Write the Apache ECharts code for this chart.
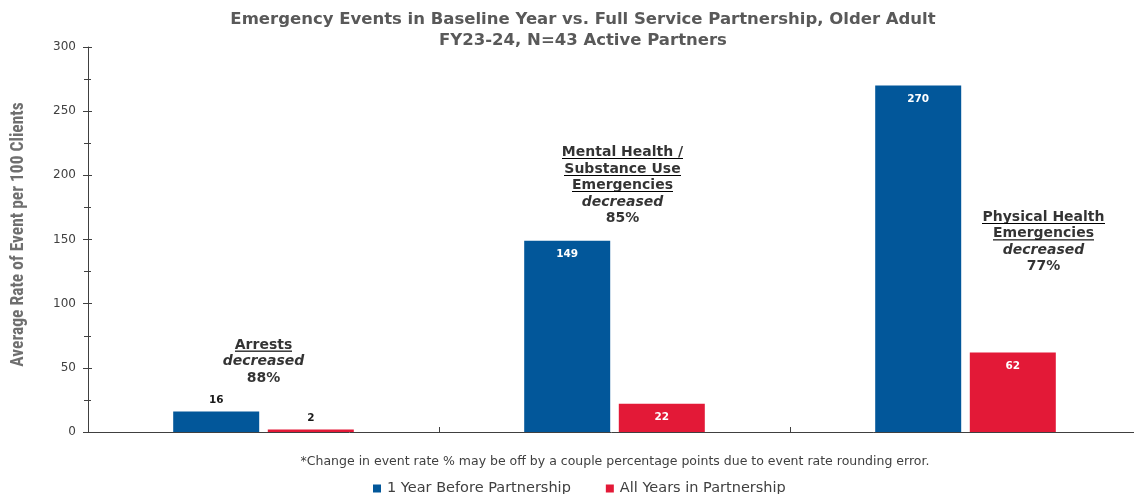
<!DOCTYPE html>
<html>
<head>
<meta charset="utf-8">
<script src="https://cdn.jsdelivr.net/npm/echarts@6/dist/echarts.min.js"></script>
<style>
  html, body { margin: 0; padding: 0; background: #fff; }
  #chart { width: 1134px; height: 494px; }
</style>
</head>
<body>
<div id="chart"></div>
<script>
// Emergency event rates per 100 clients, older adult FSP partners
const categories = ['Arrests', 'Mental Health / Substance Use Emergencies', 'Physical Health Emergencies'];
const seriesNames = ['1 Year Before Partnership', 'All Years in Partnership'];
const beforeValues = [16, 149, 270];
const duringValues = [2, 22, 62];
const decreasePct = ['88%', '85%', '77%'];
const headingLines = [['Arrests'], ['Mental Health /', 'Substance Use', 'Emergencies'], ['Physical Health', 'Emergencies']];
const yTicks = [0, 50, 100, 150, 200, 250, 300];
const titleLines = ['Emergency Events in Baseline Year vs. Full Service Partnership, Older Adult', 'FY23-24, N=43 Active Partners'];
const footnote = '*Change in event rate % may be off by a couple percentage points due to event rate rounding error.';

const BLUE = '#02579A';
const RED = '#E31937';
const FONT = '"DejaVu Sans", Verdana, sans-serif';

// small canvas stretched behind a text run to give it an underline
function underlineImage() {
  const c = document.createElement('canvas');
  c.width = 4; c.height = 40;
  const ctx = c.getContext('2d');
  ctx.fillStyle = '#000';
  ctx.fillRect(0, 36, 4, 3);
  return c;
}
const ul = underlineImage();

// annotation anchors: [category index, y value, x shift in px]
const annoAnchors = [[0, 55, 0], [1, 192, 8], [2, 148, 78]];

const annoData = annoAnchors.map(function (a) {
  const i = a[0];
  const lines = headingLines[i].map(function (t) { return '{u|' + t + '}'; });
  lines.push('{i|decreased}');
  lines.push('{b|' + decreasePct[i] + '}');
  return {
    value: [categories[i], a[1]],
    label: { formatter: lines.join('\n'), offset: [a[2], 0] }
  };
});

function barData(vals) {
  return vals.map(function (v) {
    const inside = v >= 20;
    return {
      value: v,
      label: inside
        ? { position: 'insideTop', distance: 8, color: '#fff' }
        : { position: 'top', distance: 6, color: '#1a1a1a' }
    };
  });
}

const chart = echarts.init(document.getElementById('chart'), null, { renderer: 'canvas' });

const commonY = { type: 'value', min: 0, max: 300, interval: 50 };

chart.setOption({
  animation: false,
  backgroundColor: '#fff',
  legend: {
    top: 476,
    left: 368,
    icon: 'rect',
    itemWidth: 8,
    itemHeight: 8,
    itemGap: 35,
    data: seriesNames,
    textStyle: { fontFamily: FONT, fontSize: 14.5, color: '#404040', padding: [0, 0, 0, 1] }
  },
  graphic: [
    {
      type: 'text',
      x: 583,
      y: 9,
      style: {
        text: titleLines.join('\n'),
        font: 'bold 16.5px ' + FONT,
        fill: '#595959',
        align: 'center',
        lineHeight: 21
      }
    },
    {
      type: 'text',
      x: 615,
      y: 455,
      style: {
        text: footnote,
        font: '12.5px ' + FONT,
        fill: '#404040',
        align: 'center'
      }
    }
  ],
  grid: { left: 88, width: 1053, top: 47, height: 385, outerBoundsMode: 'none', containLabel: false },
  xAxis: {
    type: 'category',
    data: categories,
    axisLine: { lineStyle: { color: '#404040', width: 1 } },
    axisTick: { show: true, inside: true, length: 5, lineStyle: { color: '#404040' } },
    axisLabel: { show: false },
    splitLine: { show: false }
  },
  yAxis: [
    Object.assign({}, commonY, {
      name: 'Average Rate of Event per 100 Clients',
      nameLocation: 'middle',
      nameGap: 60,
      nameTextStyle: { fontFamily: '"Liberation Sans Narrow", "Roboto Condensed", sans-serif', fontSize: 17.5, fontWeight: 'bold', color: '#6f6f6f', padding: [0, 0, 0, 10] },
      axisLine: { show: true, lineStyle: { color: '#404040' } },
      axisTick: { show: true, length: 5, lineStyle: { color: '#404040' } },
      minorTick: { show: true, splitNumber: 2, length: 4, lineStyle: { color: '#404040' } },
      axisLabel: {
        margin: 12,
        fontFamily: FONT,
        fontSize: 12,
        color: '#404040',
        formatter: function (v) { return yTicks.indexOf(v) >= 0 ? String(v) : ''; }
      },
      splitLine: { show: false },
      minorSplitLine: { show: false }
    }),
    Object.assign({}, commonY, {
      position: 'left',
      axisLine: { show: false },
      axisTick: { show: true, inside: true, length: 4, lineStyle: { color: '#404040' } },
      minorTick: { show: true, splitNumber: 2, length: 3, lineStyle: { color: '#404040' } },
      axisLabel: { show: false },
      splitLine: { show: false }
    })
  ],
  series: [
    {
      name: seriesNames[0],
      type: 'bar',
      data: barData(beforeValues),
      barWidth: 86,
      barGap: '10%',
      itemStyle: { color: BLUE },
      label: { show: true, fontFamily: FONT, fontSize: 10.5, fontWeight: 'bold' }
    },
    {
      name: seriesNames[1],
      type: 'bar',
      data: barData(duringValues),
      barWidth: 86,
      barGap: '10%',
      itemStyle: { color: RED },
      label: { show: true, fontFamily: FONT, fontSize: 10.5, fontWeight: 'bold' }
    },
    {
      name: 'annotations',
      type: 'scatter',
      symbolSize: 0,
      silent: true,
      data: annoData,
      label: {
        show: true,
        position: 'inside',
        align: 'center',
        verticalAlign: 'middle',
        color: '#000',
        rich: {
          u: { fontFamily: FONT, fontSize: 14, fontWeight: 'bold', color: '#000', lineHeight: 16.5, backgroundColor: { image: ul } },
          i: { fontFamily: FONT, fontSize: 14, fontStyle: 'italic', fontWeight: 'bold', color: '#000', lineHeight: 16.5 },
          b: { fontFamily: FONT, fontSize: 14, fontWeight: 'bold', color: '#000', lineHeight: 16.5 }
        }
      }
    }
  ]
});
</script>
</body>
</html>
